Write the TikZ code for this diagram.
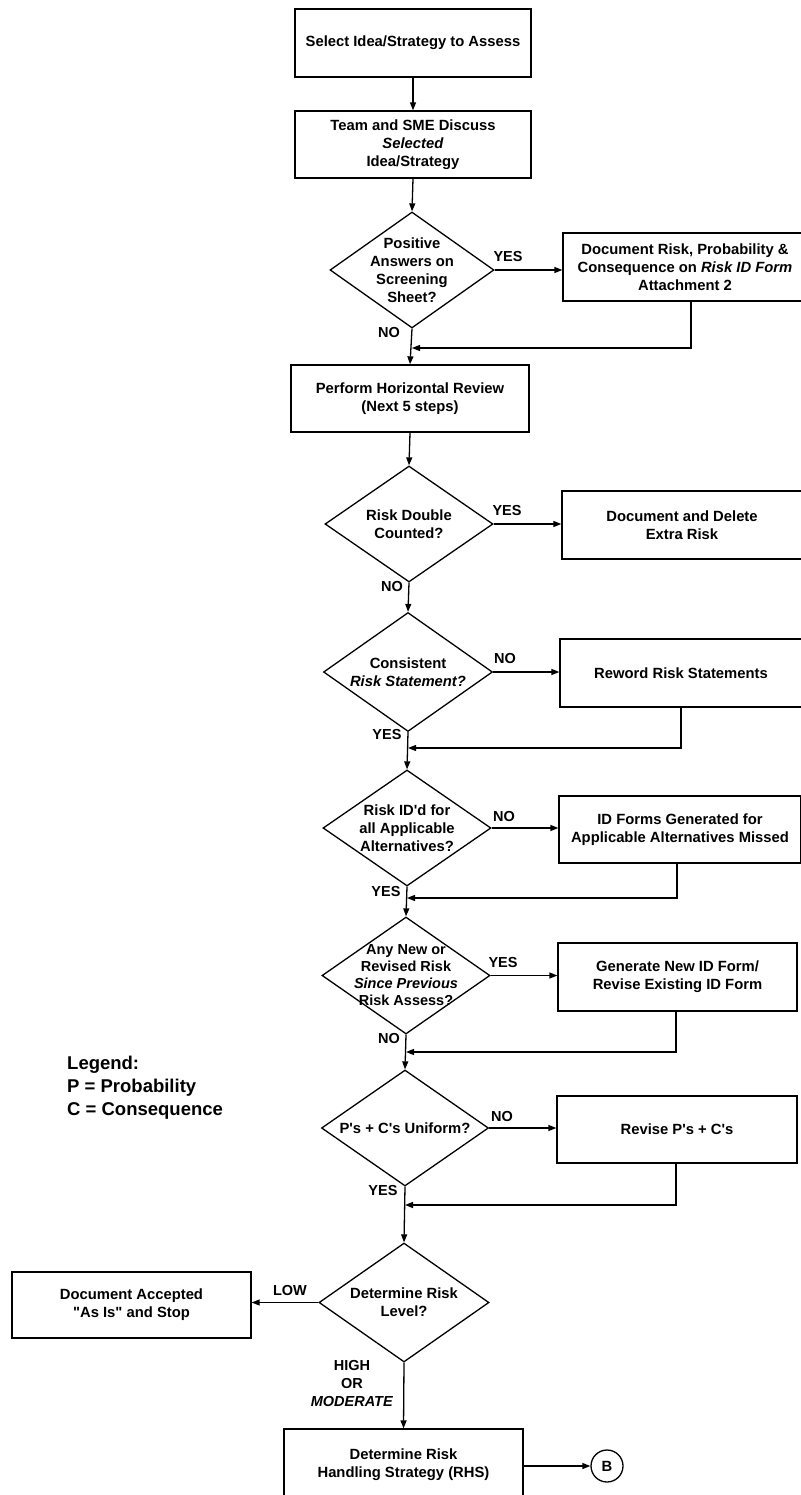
\documentclass[tikz,border=0pt]{standalone}
\usepackage{fontspec}
% no TeX mapping, so ' and " stay straight typewriter marks
\setmainfont{Liberation Sans}[Ligatures=TeXOff]
\usetikzlibrary{shapes.geometric,arrows.meta}
\begin{document}
\begin{tikzpicture}[x=1pt,y=-1pt,
  every node/.style={font=\bfseries\fontsize{14.8}{18}\selectfont},
  stepbox/.style={draw,line width=1.3pt,rectangle,inner sep=0pt,align=center},
  decision/.style={draw,line width=1.3pt,diamond,inner sep=0pt},
  flow/.style={line width=1.3pt,-{Triangle[length=8pt,width=6pt]}},
  tag/.style={inner sep=0pt,font=\bfseries\fontsize{14.5}{18}\selectfont,align=center},
  legendtext/.style={inner sep=0pt,align=left,font=\bfseries\fontsize{18.5}{23}\selectfont}]
\useasboundingbox (0,0) rectangle (800,1495);

% main column
\node[stepbox,minimum width=236pt,minimum height=68pt] (b1) at (413,43)
  {Select Idea/Strategy to Assess};
\node[stepbox,minimum width=236pt,minimum height=67pt] (b2) at (413,144.5)
  {Team and SME Discuss\\\textit{Selected}\\Idea/Strategy};
\node[decision,minimum width=164pt,minimum height=116pt,
  label={[align=center,name=d1t]center:Positive\\Answers on\\Screening\\Sheet?}] (d1) at (412,270) {};
\node[stepbox,minimum width=238pt,minimum height=67pt] (b4) at (410,398.5)
  {Perform Horizontal Review\\(Next 5 steps)};
\node[decision,minimum width=168pt,minimum height=116pt,
  label={[align=center,name=d2t]center:Risk Double\\Counted?}] (d2) at (409,524) {};
\node[decision,minimum width=169pt,minimum height=119pt,
  label={[align=center,name=d3t]center:Consistent\\\textit{Risk Statement?}}] (d3) at (408,672) {};
\node[decision,minimum width=168pt,minimum height=116pt,
  label={[align=center,name=d4t]center:Risk ID'd for\\all Applicable\\Alternatives?}] (d4) at (407,828) {};
\node[decision,minimum width=168pt,minimum height=117pt,
  label={[align=center,name=d5t,font=\bfseries\fontsize{14.5}{17}\selectfont]center:Any New or\\Revised Risk\\\textit{Since Previous}\\Risk Assess?}] (d5) at (406,975.5) {};
\node[decision,minimum width=167pt,minimum height=116pt,
  label={[name=d6t]center:P's + C's Uniform?}] (d6) at (405,1128) {};
\node[decision,minimum width=170pt,minimum height=119pt,
  label={[align=center,name=d7t]center:Determine Risk\\Level?}] (d7) at (404,1302.5) {};
\node[stepbox,minimum width=239pt,minimum height=72pt] (b10) at (403.5,1465)
  {Determine Risk\\Handling Strategy (RHS)};
\node[draw,circle,line width=1.3pt,minimum size=32pt,inner sep=0pt] (cB) at (607,1466) {B};

% side column
\node[stepbox,minimum width=244pt,minimum height=68pt] (b3) at (685,267)
  {Document Risk, Probability \&\\Consequence on \textit{Risk ID Form}\\Attachment 2};
\node[stepbox,minimum width=240pt,minimum height=68pt] (b5) at (682,525)
  {Document and Delete\\Extra Risk};
\node[stepbox,minimum width=242pt,minimum height=68pt] (b6) at (681,673)
  {Reword Risk Statements};
\node[stepbox,minimum width=242pt,minimum height=67pt] (b7) at (680,829.5)
  {ID Forms Generated for\\Applicable Alternatives Missed};
\node[stepbox,minimum width=239pt,minimum height=68pt] (b8) at (677.5,977)
  {Generate New ID Form/\\Revise Existing ID Form};
\node[stepbox,minimum width=240pt,minimum height=67pt] (b9) at (677,1129.5)
  {Revise P's + C's};
\node[stepbox,minimum width=239pt,minimum height=66pt] (b11) at (131.5,1305)
  {Document Accepted\\"As Is" and Stop};

% junctions where the side boxes rejoin the main column
\coordinate (j1) at (412,348);
\coordinate (j3) at (408,748);
\coordinate (j4) at (407,898);
\coordinate (j5) at (406,1052);
\coordinate (j6) at (405,1205);

% main column connectors
\draw[flow] (b1.south) -- (b2.north);
\draw[flow] (b2.south) -- (d1.north);
\draw[flow] (d1.south) -- (b4.north);
\draw[flow] (b4.south) -- (d2.north);
\draw[flow] (d2.south) -- (d3.north);
\draw[flow] (d3.south) -- (d4.north);
\draw[flow] (d4.south) -- (d5.north);
\draw[flow] (d5.south) -- (d6.north);
\draw[flow] (d6.south) -- (d7.north);
\draw[flow] (d7.south) -- (b10.north);
\draw[flow] (b10.east |- cB.west) -- (cB.west);

% branches
\draw[flow] (d1.east) -- (d1.east -| b3.west);
\draw[flow] (d2.east) -- (d2.east -| b5.west);
\draw[flow] (d3.east) -- (d3.east -| b6.west);
\draw[flow] (d4.east) -- (d4.east -| b7.west);
\draw[flow] (d5.east) -- (d5.east -| b8.west);
\draw[flow] (d6.east) -- (d6.east -| b9.west);
\draw[flow] (d7.west) -- (d7.west -| b11.east);

% returns
\draw[flow] ([xshift=6pt]b3.south) |- (j1);
\draw[flow] (b6.south) |- (j3);
\draw[flow] ([xshift=-3pt]b7.south) |- (j4);
\draw[flow] ([xshift=-1.5pt]b8.south) |- (j5);
\draw[flow] ([xshift=-1pt]b9.south) |- (j6);

% branch labels
\node[tag] (y1) at (508,257) {YES};
\node[tag] (n1) at (389,333) {NO};
\node[tag] (y2) at (507,511) {YES};
\node[tag] (n2) at (392,587) {NO};
\node[tag] (n3) at (505,659) {NO};
\node[tag] (y3) at (387,735) {YES};
\node[tag] (n4) at (504,817) {NO};
\node[tag] (y4) at (386,891) {YES};
\node[tag] (y5) at (503,962) {YES};
\node[tag] (n5) at (389,1038) {NO};
\node[tag] (n6) at (502,1116) {NO};
\node[tag] (y6) at (383,1190) {YES};
\node[tag] (lo) at (290,1290) {LOW};
\node[tag] (hi) at (352,1383) {HIGH\\OR\\\textit{MODERATE}};

% legend
\node[legendtext,anchor=west] (lg) at (67,1088)
  {Legend:\\P = Probability\\C = Consequence};
\end{tikzpicture}
\end{document}
